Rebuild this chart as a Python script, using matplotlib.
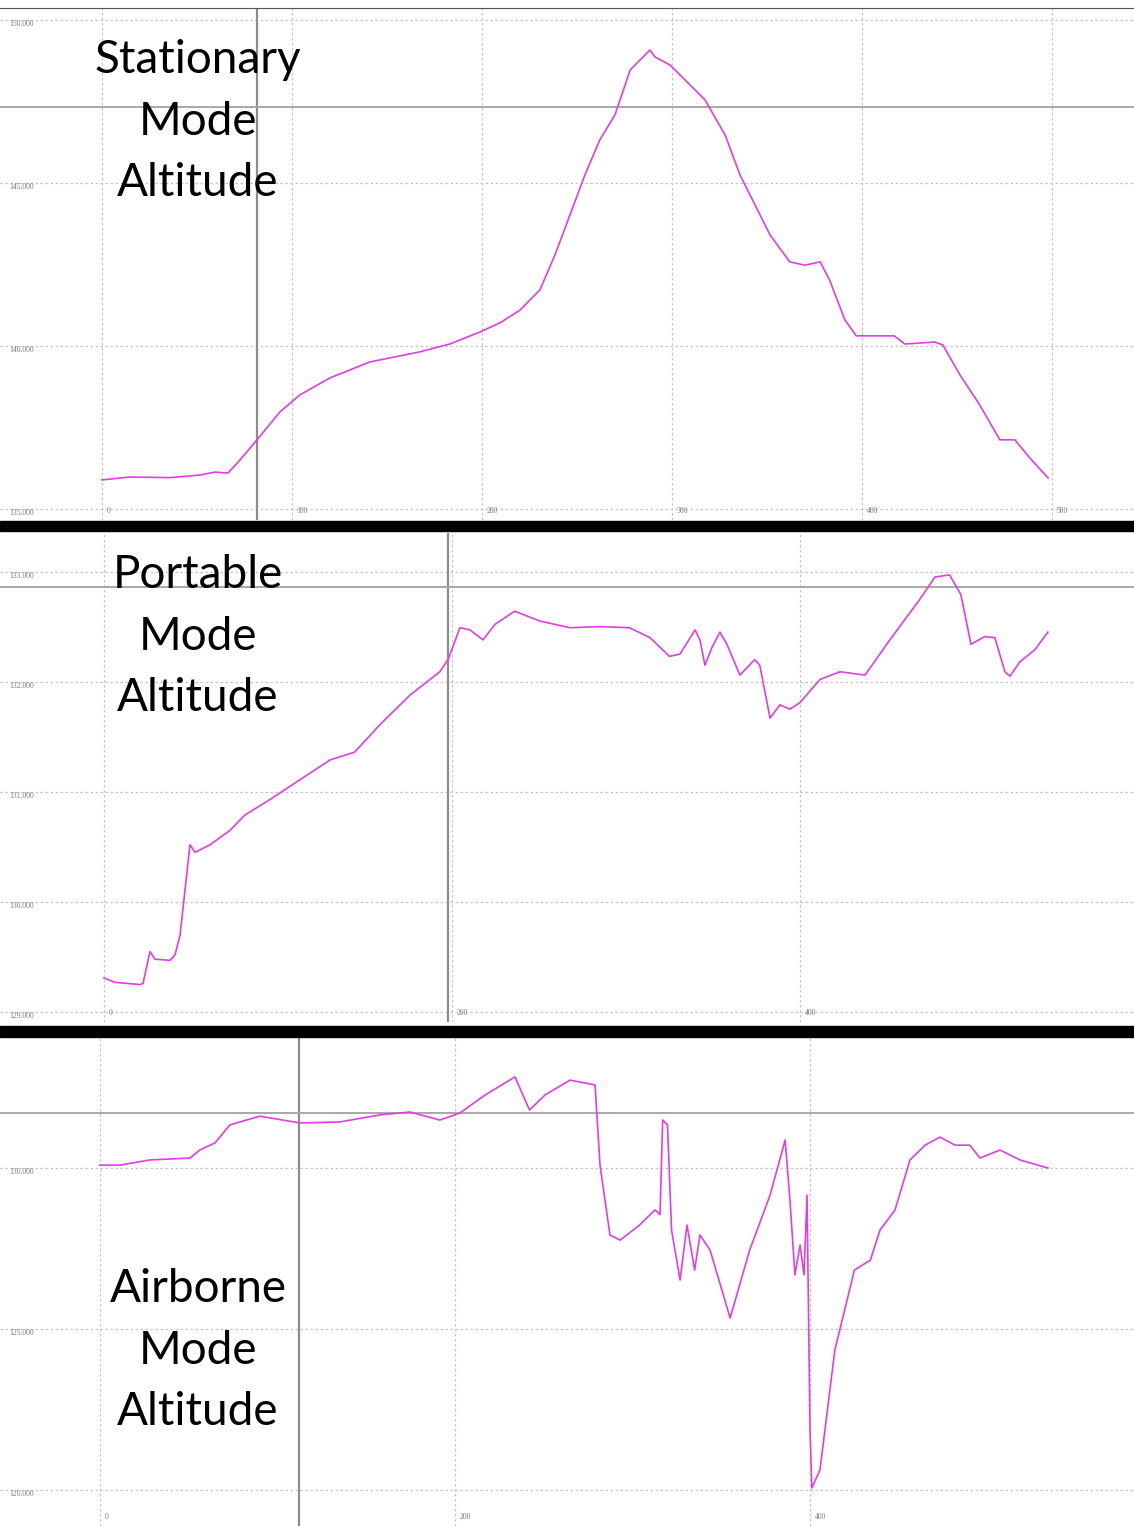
import matplotlib.pyplot as plt
from matplotlib.patches import Rectangle

# ---- Stationary mode data (sample, altitude) ----
stat_t = [0, 14.7, 35.8, 51.6, 59.5, 66.3, 72.6, 81.6, 93.7, 104.2, 120, 141, 167.4, 183,
          199, 209.5, 220, 230.5, 238.4, 246.3, 254.2, 262, 270, 278, 288.4, 291, 299,
          309.5, 317.4, 328, 335.8, 343.7, 351.6, 362, 370, 378, 383, 391, 397, 409.5,
          417, 422.6, 438.4, 442.6, 451.6, 462, 472.6, 480.5, 488.4, 498]
stat_v = [135.89, 135.98, 135.96, 136.04, 136.13, 136.10, 136.50, 137.12, 137.98, 138.50,
          139.02, 139.51, 139.82, 140.06, 140.43, 140.71, 141.10, 141.72, 142.79, 144.02,
          145.25, 146.32, 147.09, 148.47, 149.08, 148.87, 148.62, 148.01, 147.55, 146.47,
          145.25, 144.33, 143.41, 142.58, 142.48, 142.58, 142.02, 140.80, 140.31, 140.31,
          140.31, 140.06, 140.12, 140.03, 139.11, 138.19, 137.12, 137.12, 136.56, 135.95]

# ---- Portable mode data ----
port_t = [0, 6.3, 20.7, 22.4, 26.4, 29.3, 38, 40.8, 43.7, 49.4, 52.3, 61, 72.4, 81, 95.4,
          112.6, 130, 144, 158.6, 176, 193, 197.7, 204.6, 210.3, 217.8, 224.7, 236, 250.6,
          267.8, 285, 302, 313.8, 325, 331, 339.7, 342.5, 345.4, 349.4, 354, 358, 365.5,
          374, 376.9, 382.8, 388.5, 394.2, 400, 411.5, 423, 437.4, 451.7, 469, 477.6, 486,
          492.5, 498.3, 502.9, 506.3, 512, 517.8, 520.7, 526.4, 535, 542.5]
port_v = [129.31, 129.27, 129.25, 129.26, 129.55, 129.48, 129.47, 129.52, 129.70, 130.52,
          130.45, 130.52, 130.65, 130.79, 130.93, 131.11, 131.29, 131.36, 131.61, 131.88,
          132.09, 132.20, 132.49, 132.47, 132.38, 132.52, 132.64, 132.55, 132.49, 132.50,
          132.49, 132.40, 132.23, 132.25, 132.47, 132.38, 132.15, 132.31, 132.45, 132.34,
          132.06, 132.20, 132.15, 131.67, 131.79, 131.75, 131.81, 132.02, 132.09, 132.06,
          132.38, 132.75, 132.95, 132.97, 132.79, 132.34, 132.38, 132.41, 132.40, 132.09,
          132.05, 132.18, 132.29, 132.45]

# ---- Airborne mode data ----
air_t = [0, 11.3, 28, 50.7, 56.3, 64.8, 73.2, 90, 112.7, 135, 157.7, 174.6, 191.5, 202.8,
         217, 233.8, 242, 250.7, 264.8, 278.9, 281.7, 287.3, 293, 304, 312.7, 315.5, 317,
         319.7, 322, 326.8, 330.7, 335, 338, 343.7, 355, 366, 377.5, 386, 388.7, 391.5,
         394.4, 396.6, 398.3, 400, 401, 405.6, 414, 425, 434, 439.4, 447.9, 456.3, 464.8,
         473.2, 481.7, 490, 495.8, 507, 518.3, 534]
air_v = [130.09, 130.09, 130.25, 130.31, 130.56, 130.78, 131.34, 131.61, 131.40, 131.43,
         131.65, 131.74, 131.49, 131.71, 132.27, 132.83, 131.80, 132.27, 132.73, 132.58,
         130.09, 127.92, 127.76, 128.23, 128.70, 128.55, 131.49, 131.34, 128.07, 126.52,
         128.23, 126.83, 127.92, 127.45, 125.34, 127.45, 129.16, 130.87, 129.0, 126.68,
         127.61, 126.68, 129.16, 121.86, 120.06, 120.62, 124.35, 126.83, 127.14, 128.07,
         128.70, 130.25, 130.71, 130.96, 130.71, 130.71, 130.31, 130.56, 130.25, 130.0]

titles = ['Stationary\nMode\nAltitude', 'Portable\nMode\nAltitude', 'Airborne\nMode\nAltitude']

W, H = 1134, 1526
fig = plt.figure(figsize=(W / 100, H / 100), dpi=100)

LINE = '#e23de2'
GRID = '#c4c4c4'
TICK = '#7a7a7a'


def panel(top, bottom, xlim, ylim, xticks, yticks, cross_x, cross_y, t, v,
          title, title_y):
    ax = fig.add_axes([0, 1 - bottom / H, 1, (bottom - top) / H])
    ax.set_xlim(xlim)
    ax.set_ylim(ylim)
    for s in ax.spines.values():
        s.set_visible(False)
    ax.set_xticks([])
    ax.set_yticks([])
    for xt in xticks:
        ax.axvline(xt, color=GRID, lw=0.9, ls=(0, (2, 2)), zorder=1)
        ax.text(xt + (xlim[1] - xlim[0]) * 0.004, 0.01, '%d' % xt,
                transform=ax.get_xaxis_transform(), fontsize=5.5, color=TICK,
                ha='left', va='bottom', family='Liberation Serif')
    for yt in yticks:
        ax.axhline(yt, color=GRID, lw=0.9, ls=(0, (2, 2)), zorder=1)
        ax.text(0.008, yt, '%.3f' % yt, transform=ax.get_yaxis_transform(),
                fontsize=5.5, color=TICK, ha='left', va='top',
                family='Liberation Serif')
    ax.axvline(cross_x, color='#8c8c8c', lw=1.6, zorder=2)
    ax.axhline(cross_y, color='#a8a8a8', lw=1.4, zorder=2)
    ax.plot(t, v, color=LINE, lw=1.2, zorder=3)
    ax.text(198 / W, 1 - (title_y - top) / (bottom - top), title,
            transform=ax.transAxes, ha='center', va='top', fontsize=33,
            family='Lato', linespacing=1.58, color='black', zorder=4)
    return ax


ax1 = panel(8, 520, (-53.7, 543.2), (134.66, 150.37), [0, 100, 200, 300, 400, 500],
            [135, 140, 145, 150], 81.6, 147.33, stat_t, stat_v, titles[0], 39)
ax1.spines['top'].set_visible(True)
ax1.spines['top'].set_color('#555555')

panel(533, 1022, (-59.8, 592.0), (128.91, 133.35), [0, 200, 400],
      [129, 130, 131, 132, 133], 197.7, 132.86, port_t, port_v, titles[1], 554)

panel(1037, 1526, (-56.3, 582.5), (118.88, 134.07), [0, 200, 400],
      [120, 125, 130], 112.0, 131.7, air_t, air_v, titles[2], 1268)

# black separator bars between the screenshots
for y0, y1 in [(521, 531), (1026, 1037)]:
    fig.patches.append(Rectangle((0, 1 - y1 / H), 1, (y1 - y0) / H,
                                 transform=fig.transFigure, color='black', zorder=5))

fig.savefig('out.png', dpi=100)
